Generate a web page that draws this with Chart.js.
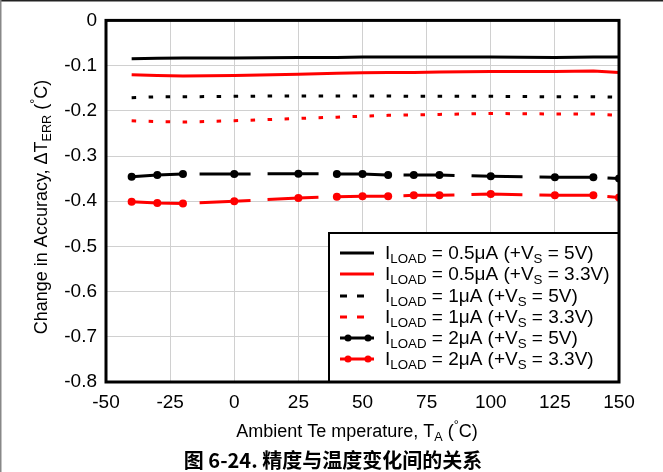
<!DOCTYPE html>
<html lang="zh">
<head>
<meta charset="UTF-8">
<title>精度与温度变化间的关系</title>
<script src="https://cdn.jsdelivr.net/npm/chart.js@4.4.1/dist/chart.umd.min.js"></script>
<style>
  html, body { margin: 0; padding: 0; background: #fff; }
  #wrap { position: relative; width: 663px; height: 472px; }
</style>
</head>
<body>
<div id="wrap"><canvas id="c" width="663" height="472"></canvas></div>
<script>
// temperatures (°C) where the curves were sampled
const temps = [-40, -30, -20, 0, 25, 40, 50, 60, 70, 80, 100, 125, 140, 150];

// change in accuracy (°C)
const load05_5V  = [-0.085, -0.084, -0.083, -0.083, -0.082, -0.082, -0.081, -0.081, -0.081, -0.081, -0.081, -0.082, -0.081, -0.081];
const load05_33V = [-0.120, -0.122, -0.123, -0.122, -0.119, -0.117, -0.116, -0.115, -0.115, -0.114, -0.113, -0.113, -0.112, -0.115];
const load1_5V   = [-0.171, -0.169, -0.169, -0.168, -0.167, -0.167, -0.167, -0.167, -0.168, -0.168, -0.168, -0.169, -0.169, -0.170];
const load1_33V  = [-0.222, -0.224, -0.225, -0.222, -0.217, -0.214, -0.212, -0.210, -0.209, -0.208, -0.206, -0.207, -0.207, -0.210];
const load2_5V   = [-0.346, -0.342, -0.340, -0.340, -0.339, -0.340, -0.340, -0.342, -0.342, -0.342, -0.345, -0.347, -0.347, -0.350];
const load2_33V  = [-0.401, -0.404, -0.405, -0.400, -0.393, -0.390, -0.389, -0.389, -0.387, -0.387, -0.384, -0.387, -0.387, -0.392];

const xTicks = [-50, -25, 0, 25, 50, 75, 100, 125, 150];
const yTicks = [0, -0.1, -0.2, -0.3, -0.4, -0.5, -0.6, -0.7, -0.8];

// legend text pieces: [text, 'sub'|'sup'|undefined]
const legendLabels = [
  [['I'], ['LOAD', 'sub'], [' = 0.5\u03bcA (+V'], ['S', 'sub'], [' = 5V)']],
  [['I'], ['LOAD', 'sub'], [' = 0.5\u03bcA (+V'], ['S', 'sub'], [' = 3.3V)']],
  [['I'], ['LOAD', 'sub'], [' = 1\u03bcA (+V'], ['S', 'sub'], [' = 5V)']],
  [['I'], ['LOAD', 'sub'], [' = 1\u03bcA (+V'], ['S', 'sub'], [' = 3.3V)']],
  [['I'], ['LOAD', 'sub'], [' = 2\u03bcA (+V'], ['S', 'sub'], [' = 5V)']],
  [['I'], ['LOAD', 'sub'], [' = 2\u03bcA (+V'], ['S', 'sub'], [' = 3.3V)']]
];
const xTitle = [['Ambient Te mperature, T'], ['A', 'sub'], [' ('], ['\u00b0', 'sup'], ['C)']];
const yTitle = [['Change in Accuracy, \u0394T'], ['ERR', 'sub'], [' ('], ['\u00b0', 'sup'], ['C)']];
const caption = '图 6-24. 精度与温度变化间的关系';

const FONT = '"Liberation Sans", Arial, sans-serif';
const BLACK = '#000000';
const RED = '#ff0000';
const DOT = [4.5, 12.5];
const LONGDASH = [51, 17];

function pts(ys) { return temps.map((t, i) => ({ x: t, y: ys[i] })); }

function series(label, ys, color, dash, marker) {
  return {
    label: label,
    data: pts(ys),
    borderColor: color,
    backgroundColor: color,
    borderWidth: 3,
    borderDash: dash,
    borderCapStyle: 'butt',
    pointRadius: marker ? 4 : 0,
    pointHoverRadius: 0,
    pointBorderWidth: 0,
    pointBackgroundColor: color,
    tension: 0,
    fill: false
  };
}

// draw text made of normal / sub / sup pieces
function richWidth(ctx, parts, size) {
  let w = 0;
  parts.forEach(p => {
    ctx.font = (p[1] ? size * 0.7 : size) + 'px ' + FONT;
    w += ctx.measureText(p[0]).width;
  });
  return w;
}
function drawRich(ctx, parts, x, y, size, align) {
  let cx = align === 'center' ? x - richWidth(ctx, parts, size) / 2 : x;
  ctx.textBaseline = 'alphabetic';
  ctx.textAlign = 'left';
  parts.forEach(p => {
    const s = p[1] ? size * 0.7 : size;
    ctx.font = s + 'px ' + FONT;
    let dy = 0;
    if (p[1] === 'sub') dy = size * 0.22;
    if (p[1] === 'sup') dy = -size * 0.45;
    ctx.fillText(p[0], cx, y + dy);
    cx += ctx.measureText(p[0]).width;
  });
}

const decor = {
  id: 'decor',
  afterDraw(chart) {
    const ctx = chart.ctx;
    const a = chart.chartArea;
    ctx.save();

    // legend box
    const bx = 329, by = 233, bw = a.right - bx, bh = a.bottom - by;
    ctx.fillStyle = '#fff';
    ctx.fillRect(bx, by, bw, bh);
    ctx.strokeStyle = '#000';
    ctx.lineWidth = 2;
    ctx.setLineDash([]);
    ctx.strokeRect(bx, by, bw, bh);

    // plot frame
    ctx.lineWidth = 3;
    ctx.strokeRect(a.left, a.top, a.right - a.left, a.bottom - a.top);

    const rowY = [253, 274, 296, 317, 338, 359];
    chart.data.datasets.forEach((ds, i) => {
      const y = rowY[i];
      ctx.strokeStyle = ds.borderColor;
      ctx.fillStyle = ds.borderColor;
      ctx.lineWidth = 3;
      ctx.lineCap = 'butt';
      ctx.setLineDash(ds.borderDash.length && ds.borderDash[0] < 10 ? [7, 10] : []);
      ctx.beginPath();
      ctx.moveTo(340, y);
      ctx.lineTo(374, y);
      ctx.stroke();
      ctx.setLineDash([]);
      if (ds.pointRadius > 0) {
        [348, 368].forEach(px => {
          ctx.beginPath();
          ctx.arc(px, y, 3.5, 0, Math.PI * 2);
          ctx.fill();
        });
      }
      ctx.fillStyle = '#000';
      drawRich(ctx, legendLabels[i], 385, y + 6, 19, 'left');
    });

    // axis titles
    ctx.fillStyle = '#000';
    drawRich(ctx, xTitle, 357, 437, 18, 'center');
    ctx.save();
    ctx.translate(47, 207);
    ctx.rotate(-Math.PI / 2);
    drawRich(ctx, yTitle, 0, 0, 18, 'center');
    ctx.restore();

    // caption
    ctx.font = 'bold 20px "Noto Sans CJK SC", sans-serif';
    ctx.textAlign = 'center';
    ctx.textBaseline = 'middle';
    ctx.fillText(caption, 333, 460);

    // page border
    ctx.fillStyle = '#222';
    ctx.fillRect(0, 0, chart.width, 1.5);
    ctx.fillStyle = '#888';
    ctx.fillRect(0, 0, 1.5, chart.height);
    ctx.restore();
  }
};

const chart = new Chart(document.getElementById('c'), {
  type: 'line',
  data: {
    datasets: [
      series('ILOAD = 0.5μA (+VS = 5V)', load05_5V, BLACK, [], false),
      series('ILOAD = 0.5μA (+VS = 3.3V)', load05_33V, RED, [], false),
      series('ILOAD = 1μA (+VS = 5V)', load1_5V, BLACK, DOT, false),
      series('ILOAD = 1μA (+VS = 3.3V)', load1_33V, RED, DOT, false),
      series('ILOAD = 2μA (+VS = 5V)', load2_5V, BLACK, LONGDASH, true),
      series('ILOAD = 2μA (+VS = 3.3V)', load2_33V, RED, LONGDASH, true)
    ]
  },
  options: {
    responsive: false,
    animation: false,
    events: [],
    layout: { padding: { left: 0, right: 44, top: 20, bottom: 60 } },
    plugins: { legend: { display: false }, tooltip: { enabled: false } },
    scales: {
      x: {
        type: 'linear',
        min: -50, max: 150,
        afterBuildTicks: s => { s.ticks = xTicks.map(v => ({ value: v })); },
        afterFit: s => { s.height = 30; },
        grid: { color: '#d0d0d0', lineWidth: 1, drawTicks: false },
        border: { display: false },
        ticks: { color: '#000', font: { family: FONT, size: 19 }, padding: 9, maxRotation: 0 }
      },
      y: {
        min: -0.8, max: 0,
        afterBuildTicks: s => { s.ticks = yTicks.map(v => ({ value: v })); },
        afterFit: s => { s.width = 106; },
        grid: { color: '#d0d0d0', lineWidth: 1, drawTicks: false },
        border: { display: false },
        ticks: { color: '#000', font: { family: FONT, size: 19 }, padding: 9,
                 callback: v => String(Math.round(v * 10) / 10) }
      }
    }
  },
  plugins: [decor]
});
</script>
</body>
</html>
